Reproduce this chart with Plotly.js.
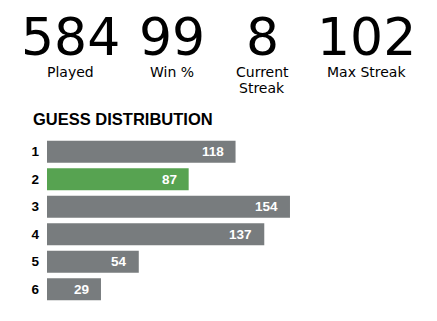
<!DOCTYPE html>
<html>
<head>
<meta charset="utf-8">
<script src="https://cdn.plot.ly/plotly-3.0.1.min.js"></script>
<style>html,body{margin:0;padding:0;background:#fff;}#chart{width:437px;height:321px;}</style>
</head>
<body>
<div id="chart"></div>
<script>
// ---- data ----
const statValues = ["584", "99", "8", "102"];
const statLabels = ["Played", "Win %", "Current\nStreak", "Max Streak"];
const guesses = ["1", "2", "3", "4", "5", "6"];
const counts = [118, 87, 154, 137, 54, 29];
const highlightGuess = "2";
const chartTitle = "GUESS DISTRIBUTION";

// ---- layout constants ----
const W = 437, H = 321;
const ML = 47, MR = 40, MT = 138, MB = 18;
const plotW = W - ML - MR, plotH = H - MT - MB;
const pxPerUnit = 1.512;
const pad = 6.7; // minimum bar padding in data units
const statCentersPx = [70, 171.5, 262, 366.5];
const px2x = p => (p - ML) / plotW;
const py2y = p => (H - MB - p) / plotH;

const gray = "#787c7e", green = "#57a351";
const boldFont = "Liberation Sans, Arial, sans-serif";

const trace = {
  type: "bar",
  orientation: "h",
  y: guesses,
  x: counts.map(c => c + pad),
  base: guesses.map(() => -pad),
  marker: { color: guesses.map(g => g === highlightGuess ? green : gray), line: { width: 0 } },
  hoverinfo: "skip",
  width: 0.8
};

const annotations = [];
// value labels (category index used as y position)
guesses.forEach((g, i) => {
  annotations.push({
    x: counts[i], y: i, xref: "x", yref: "y",
    text: "<b>" + counts[i] + "</b>", showarrow: false,
    xanchor: "right", yanchor: "middle", xshift: -10,
    font: { family: boldFont, size: 13.5, color: "#ffffff" }
  });
});
// stats
statValues.forEach((v, i) => {
  annotations.push({
    x: px2x(statCentersPx[i]), y: py2y(37), xref: "paper", yref: "paper",
    text: v, showarrow: false, xanchor: "center", yanchor: "middle",
    font: { family: "DejaVu Sans, sans-serif", size: 52, color: "#000000" }
  });
  statLabels[i].split("\n").forEach((line, j) => {
    annotations.push({
      x: px2x(statCentersPx[i]), y: py2y(72), xref: "paper", yref: "paper",
      text: line, showarrow: false, xanchor: "center", yanchor: "middle",
      yshift: -16.3 * j,
      font: { family: "DejaVu Sans, sans-serif", size: 14, color: "#000000" }
    });
  });
});
// title
annotations.push({
  x: px2x(31), y: py2y(119), xref: "paper", yref: "paper",
  text: "<b>" + chartTitle + "</b>", showarrow: false,
  xanchor: "left", yanchor: "middle",
  font: { family: boldFont, size: 16.5, color: "#000000" }
});

const layout = {
  width: W, height: H,
  margin: { l: ML, r: MR, t: MT, b: MB, pad: 0 },
  paper_bgcolor: "#ffffff", plot_bgcolor: "#ffffff",
  showlegend: false,
  bargap: 0.2,
  xaxis: { range: [-pad, -pad + plotW / pxPerUnit], visible: false, fixedrange: true },
  yaxis: {
    type: "category", categoryorder: "array", categoryarray: guesses,
    range: [guesses.length - 0.5, -0.5], autorange: false,
    showgrid: false, zeroline: false, showline: false,
    ticks: "", ticklabelstandoff: 7,
    tickfont: { family: boldFont, size: 13.5, color: "#000000", weight: "bold" },
    fixedrange: true
  },
  annotations: annotations
};

Plotly.newPlot("chart", [trace], layout, { displayModeBar: false, staticPlot: true });
</script>
</body>
</html>
